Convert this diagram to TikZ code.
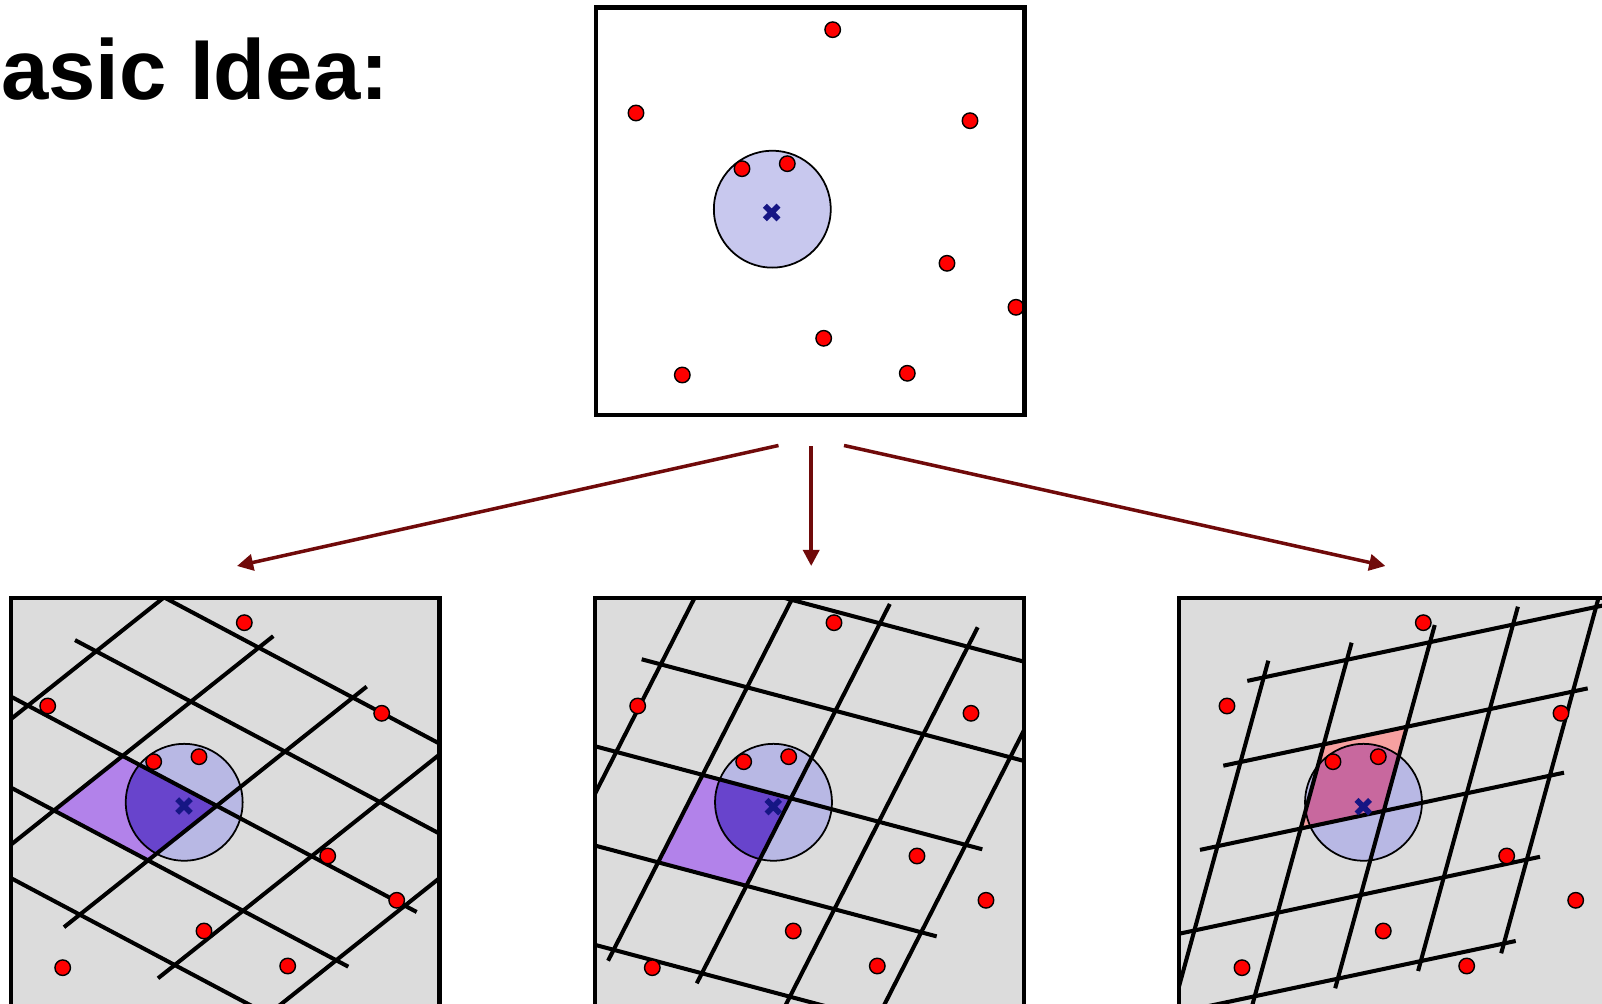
\documentclass[tikz,border=0pt]{standalone}
\usepackage{fontspec}
\newfontfamily\titlefont{Liberation Sans}
\usetikzlibrary{arrows.meta}
\definecolor{boxgray}{RGB}{220,220,220}
\definecolor{circtop}{RGB}{200,200,238}
\definecolor{circbot}{RGB}{184,184,228}
\definecolor{purplight}{RGB}{178,130,234}
\definecolor{purpdark}{RGB}{104,68,204}
\definecolor{redlight}{RGB}{246,160,160}
\definecolor{reddark}{RGB}{200,104,158}
\definecolor{arrowred}{RGB}{112,10,10}
\definecolor{crosscol}{RGB}{22,22,132}
\begin{document}
\begin{tikzpicture}[x=0.01cm,y=-0.01cm,
  gridline/.style={line width=1.15pt, black},
  boxframe/.style={line width=1.15pt, black},
  dot/.style={circle, fill=red, draw=black, line width=0.4pt, minimum size=0.155cm, inner sep=0pt},
  rad/.style={draw=black, line width=0.5pt},
  conn/.style={draw=arrowred, line width=1pt, -{Triangle[length=4.6pt,width=4.6pt]}},
  xmark/.pic={\draw[crosscol, line width=1.6pt] (-6.8,-6.8)--(6.8,6.8) (-6.8,6.8)--(6.8,-6.8);}]
\useasboundingbox (0,0) rectangle (1602,1004);

% title
\node[anchor=base west, inner sep=0pt, font=\titlefont\bfseries\fontsize{24.2pt}{29pt}\selectfont] (title) at (-61,100) {Basic Idea:};

% ---------- top box ----------
\fill[white] (596,7.5) rectangle (1024.5,415);
\filldraw[fill=circtop, rad] (772.3,209.2) circle (0.584cm);
\foreach \x/\y [count=\i] in {832.7/29.7, 636/113, 970/120.7, 742/168.7, 787.3/163.7, 947/263.3, 1016/307.3, 823.7/338.3, 682.3/375, 907.3/373.3}
  \node[dot] (t\i) at (\x,\y) {};
\pic at (771.7,212.5) {xmark};
\draw[boxframe] (596,7.5) rectangle (1024.5,415);

% ---------- arrows ----------
\coordinate (s1) at (778.5,445.5); \coordinate (e1) at (237,566);
\coordinate (s2) at (811.2,446.5); \coordinate (e2) at (811.2,566);
\coordinate (s3) at (844,445.5);   \coordinate (e3) at (1385.4,566);
\draw[conn] (s1) -- (e1);
\draw[conn] (s2) -- (e2);
\draw[conn] (s3) -- (e3);

% ---------- left box ----------
\fill[boxgray] (11,598) rectangle (439.5,1007);
\begin{scope}
  \clip (11,598) rectangle (439.5,1007);
  \fill[circbot] (184.2,802.3) circle (0.584cm);
  \fill[purplight] (122.65,755.9) -- (54.03,810.45) -- (148.07,860.4) -- (216.7,805.8) -- cycle;
  \begin{scope}
    \clip (184.2,802.3) circle (0.584cm);
    \fill[purpdark] (122.65,755.9) -- (54.03,810.45) -- (148.07,860.4) -- (216.7,805.8) -- cycle;
  \end{scope}
  \draw[rad] (184.2,802.3) circle (0.584cm);
  \draw[gridline] (150,589.9)--(450,749.2);
  \draw[gridline] (75,640.1)--(450,839.2);
  \draw[gridline] (0,690.8)--(416.7,912.0);
  \draw[gridline] (0,781.8)--(348.3,966.7);
  \draw[gridline] (0,872.3)--(280,1020.9);
  \draw[gridline] (0,727.8)--(180,584.7);
  \draw[gridline] (0,853.4)--(273.3,636.1);
  \draw[gridline] (64,927.2)--(366.7,686.6);
  \draw[gridline] (158,978.3)--(450,746.2);
  \draw[gridline] (260,1020.9)--(450,869.8);
\end{scope}
\foreach \x/\y [count=\i] in {244.3/622.7, 47.7/706, 381.7/713.3, 153.7/761.7, 199/756.7, 327.7/856, 396.7/900.3, 204/931, 62.7/967.7, 287.7/966}
  \node[dot] (l\i) at (\x,\y) {};
\pic at (184,806) {xmark};
\draw[boxframe] (11,598) rectangle (439.5,1007);

% ---------- middle box ----------
\fill[boxgray] (595.3,598) rectangle (1023.8,1007);
\begin{scope}
  \clip (595.3,598) rectangle (1023.8,1007);
  \fill[circbot] (773.5,802.3) circle (0.584cm);
  \fill[purplight] (702.6,774.9) -- (658.1,862.3) -- (746.4,885.8) -- (790.9,798.4) -- cycle;
  \begin{scope}
    \clip (773.5,802.3) circle (0.584cm);
    \fill[purpdark] (702.6,774.9) -- (658.1,862.3) -- (746.4,885.8) -- (790.9,798.4) -- cycle;
  \end{scope}
  \draw[rad] (773.5,802.3) circle (0.584cm);
  \draw[gridline] (770,594.1)--(1035,664.6);
  \draw[gridline] (641.7,659.3)--(1035,763.9);
  \draw[gridline] (585,743.6)--(982.3,849.3);
  \draw[gridline] (585,842.9)--(936.7,936.4);
  \draw[gridline] (585,942.2)--(850,1012.7);
  \draw[gridline] (584.2,815)--(698.6,590);
  \draw[gridline] (608.1,960.7)--(796.6,590);
  \draw[gridline] (696.8,983.3)--(889.8,604);
  \draw[gridline] (780.6,1015)--(977.7,627.3);
  \draw[gridline] (879.1,1015)--(1039.4,700);
\end{scope}
\foreach \x/\y [count=\i] in {834/622.7, 637.7/706, 971/713.3, 743.7/761.7, 788.7/756.7, 917/856, 986/900.3, 793.3/931, 652.3/967.7, 877.3/966}
  \node[dot] (m\i) at (\x,\y) {};
\pic at (773.3,806.7) {xmark};
\draw[boxframe] (595.3,598) rectangle (1023.8,1007);

% ---------- right box ----------
\fill[boxgray] (1179.3,598) rectangle (1607.8,1007);
\begin{scope}
  \clip (1179.3,598) rectangle (1607.8,1007);
  \fill[circbot] (1363.5,802.3) circle (0.584cm);
  \fill[redlight] (1323.8,744.4) -- (1406.9,726.7) -- (1383.8,811.0) -- (1300.7,828.6) -- cycle;
  \begin{scope}
    \clip (1363.5,802.3) circle (0.584cm);
    \fill[reddark] (1323.8,744.4) -- (1406.9,726.7) -- (1383.8,811.0) -- (1300.7,828.6) -- cycle;
  \end{scope}
  \draw[rad] (1363.5,802.3) circle (0.584cm);
  \draw[gridline] (1247.3,680.9)--(1620,601.9);
  \draw[gridline] (1223.3,765.7)--(1587.7,688.4);
  \draw[gridline] (1200,849.9)--(1564,772.7);
  \draw[gridline] (1170,935.7)--(1540,856.8);
  \draw[gridline] (1190,1010)--(1515.7,941);
  \draw[gridline] (1175.3,1000)--(1268.3,660.7);
  \draw[gridline] (1249.6,1015)--(1351.6,642.7);
  \draw[gridline] (1335.2,988.3)--(1434.75,625);
  \draw[gridline] (1418.1,971)--(1517.9,606.7);
  \draw[gridline] (1501.2,953.3)--(1600.7,590);
\end{scope}
\foreach \x/\y [count=\i] in {1423.3/622.7, 1227/706, 1561/713.3, 1333/761.7, 1378.3/756.7, 1506.7/856, 1575.7/900.3, 1383.3/931, 1242/967.7, 1466.7/966}
  \node[dot] (r\i) at (\x,\y) {};
\pic at (1363.3,806.7) {xmark};
\draw[boxframe] (1179.3,598) rectangle (1607.8,1007);
\end{tikzpicture}
\end{document}
